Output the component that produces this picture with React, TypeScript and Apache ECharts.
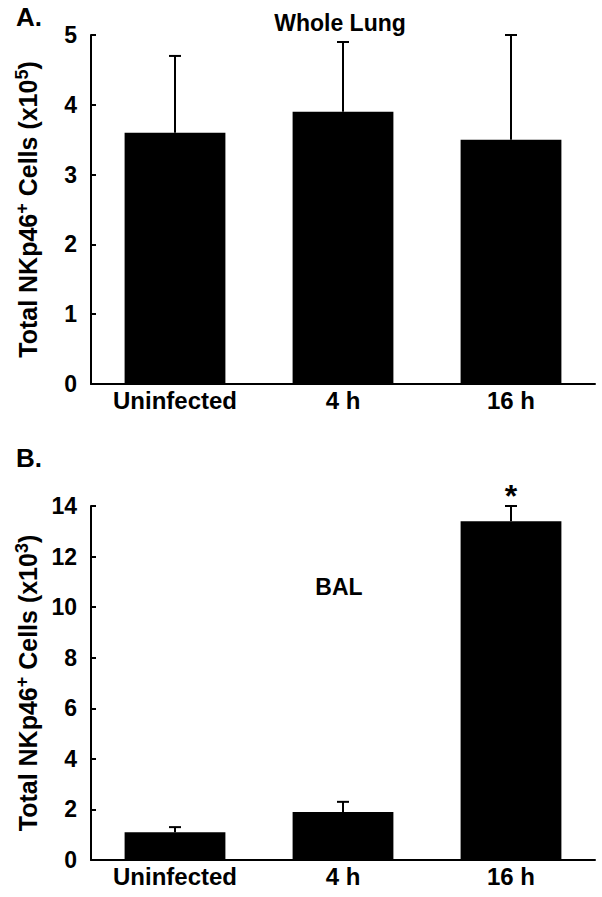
import React, { useEffect, useRef } from "react";
import * as echarts from "echarts";

const categories = ["Uninfected", "4 h", "16 h"];
const lungMeans = [3.6, 3.9, 3.5];
const lungErr = [1.1, 1.0, 1.5];
const balMeans = [1.1, 1.9, 13.4];
const balErr = [0.2, 0.4, 0.6];
const balSig = ["", "", "*"];
const lungAxis = { min: 0, max: 5, interval: 1 };
const balAxis = { min: 0, max: 14, interval: 2 };

const FONT = "'Liberation Sans', Arial, Helvetica, sans-serif";
const INK = "#000";

function errData(means: number[], errs: number[]) {
  return means.map((m, i) => [i, m, m + errs[i]]);
}

function makeErrRender(sig: string[]) {
  return (params: any, api: any) => {
    const x = api.value(0);
    const y = api.value(1);
    const top = api.value(2);
    const p0 = api.coord([x, y]);
    const p1 = api.coord([x, top]);
    const hw = 6;
    const children: any[] = [
      {
        type: "line",
        shape: { x1: p0[0], y1: p0[1], x2: p1[0], y2: p1[1] },
        style: { stroke: INK, lineWidth: 2 },
      },
      {
        type: "line",
        shape: { x1: p1[0] - hw, y1: p1[1], x2: p1[0] + hw, y2: p1[1] },
        style: { stroke: INK, lineWidth: 2 },
      },
    ];
    const s = sig[params.dataIndex];
    if (s) {
      children.push({
        type: "text",
        x: p1[0],
        y: p1[1] + 6,
        style: {
          text: s,
          fill: INK,
          font: `bold 32px ${FONT}`,
          align: "center",
          verticalAlign: "bottom",
        },
      });
    }
    return { type: "group", children };
  };
}

function yName(exp: string) {
  return `{a|Total NKp46}{s|+}{a| Cells (x10}{s|${exp}}{a|)}`;
}

const nameRich = {
  a: { fontSize: 25, fontWeight: "bold", fontFamily: FONT, color: INK, lineHeight: 30 },
  s: { fontSize: 18, fontWeight: "bold", fontFamily: FONT, color: INK, lineHeight: 30, verticalAlign: "top" },
};

export default function App() {
  const ref = useRef<HTMLDivElement>(null);
  useEffect(() => {
    if (!ref.current) return;
    const chart = echarts.init(ref.current, undefined, { renderer: "svg" });
    const xAxisBase = (gridIndex: number) => ({
      type: "category",
      gridIndex,
      data: categories,
      axisLine: { lineStyle: { color: INK, width: 2 } },
      axisTick: { show: false },
      axisLabel: { color: INK, fontSize: 24, fontWeight: "bold", fontFamily: FONT, margin: 4 },
    });
    const yAxisBase = (gridIndex: number, ax: any, exp: string) => ({
      type: "value",
      gridIndex,
      min: ax.min,
      max: ax.max,
      interval: ax.interval,
      name: yName(exp),
      nameLocation: "middle",
      nameGap: 48,
      nameRotate: 90,
      nameTextStyle: { rich: nameRich },
      axisLine: { show: true, lineStyle: { color: INK, width: 2 } },
      axisTick: { show: true, inside: true, length: 5, lineStyle: { color: INK, width: 2 } },
      splitLine: { show: false },
      axisLabel: { color: INK, fontSize: 23, fontWeight: "bold", fontFamily: FONT, margin: 14 },
    });
    chart.setOption({
      animation: false,
      backgroundColor: "#fff",
      grid: [
        { left: 91, top: 35, width: 504, height: 349 },
        { left: 91, top: 506, width: 504, height: 354 },
      ],
      xAxis: [xAxisBase(0), xAxisBase(1)],
      yAxis: [yAxisBase(0, lungAxis, "5"), yAxisBase(1, balAxis, "3")],
      graphic: [
        { type: "text", left: 16, top: 4, style: { text: "A.", font: `bold 26px ${FONT}`, fill: INK } },
        { type: "text", left: 16, top: 445, style: { text: "B.", font: `bold 26px ${FONT}`, fill: INK } },
        { type: "text", x: 340, y: 23, style: { text: "Whole Lung", font: `bold 23px ${FONT}`, fill: INK, align: "center", verticalAlign: "middle" } },
        { type: "text", x: 339, y: 587, style: { text: "BAL", font: `bold 23px ${FONT}`, fill: INK, align: "center", verticalAlign: "middle" } },
      ],
      series: [
        {
          type: "bar",
          xAxisIndex: 0,
          yAxisIndex: 0,
          data: lungMeans,
          barWidth: "60%",
          itemStyle: { color: INK },
        },
        {
          type: "custom",
          xAxisIndex: 0,
          yAxisIndex: 0,
          data: errData(lungMeans, lungErr),
          encode: { x: 0, y: [1, 2] },
          renderItem: makeErrRender(["", "", ""]),
          z: 3,
        },
        {
          type: "bar",
          xAxisIndex: 1,
          yAxisIndex: 1,
          data: balMeans,
          barWidth: "60%",
          itemStyle: { color: INK },
        },
        {
          type: "custom",
          xAxisIndex: 1,
          yAxisIndex: 1,
          data: errData(balMeans, balErr),
          encode: { x: 0, y: [1, 2] },
          renderItem: makeErrRender(balSig),
          z: 3,
        },
      ],
    });
    return () => chart.dispose();
  }, []);
  return (
    <div
      ref={ref}
      style={{ position: "fixed", left: 0, top: 0, width: 602, height: 897 }}
    />
  );
}
